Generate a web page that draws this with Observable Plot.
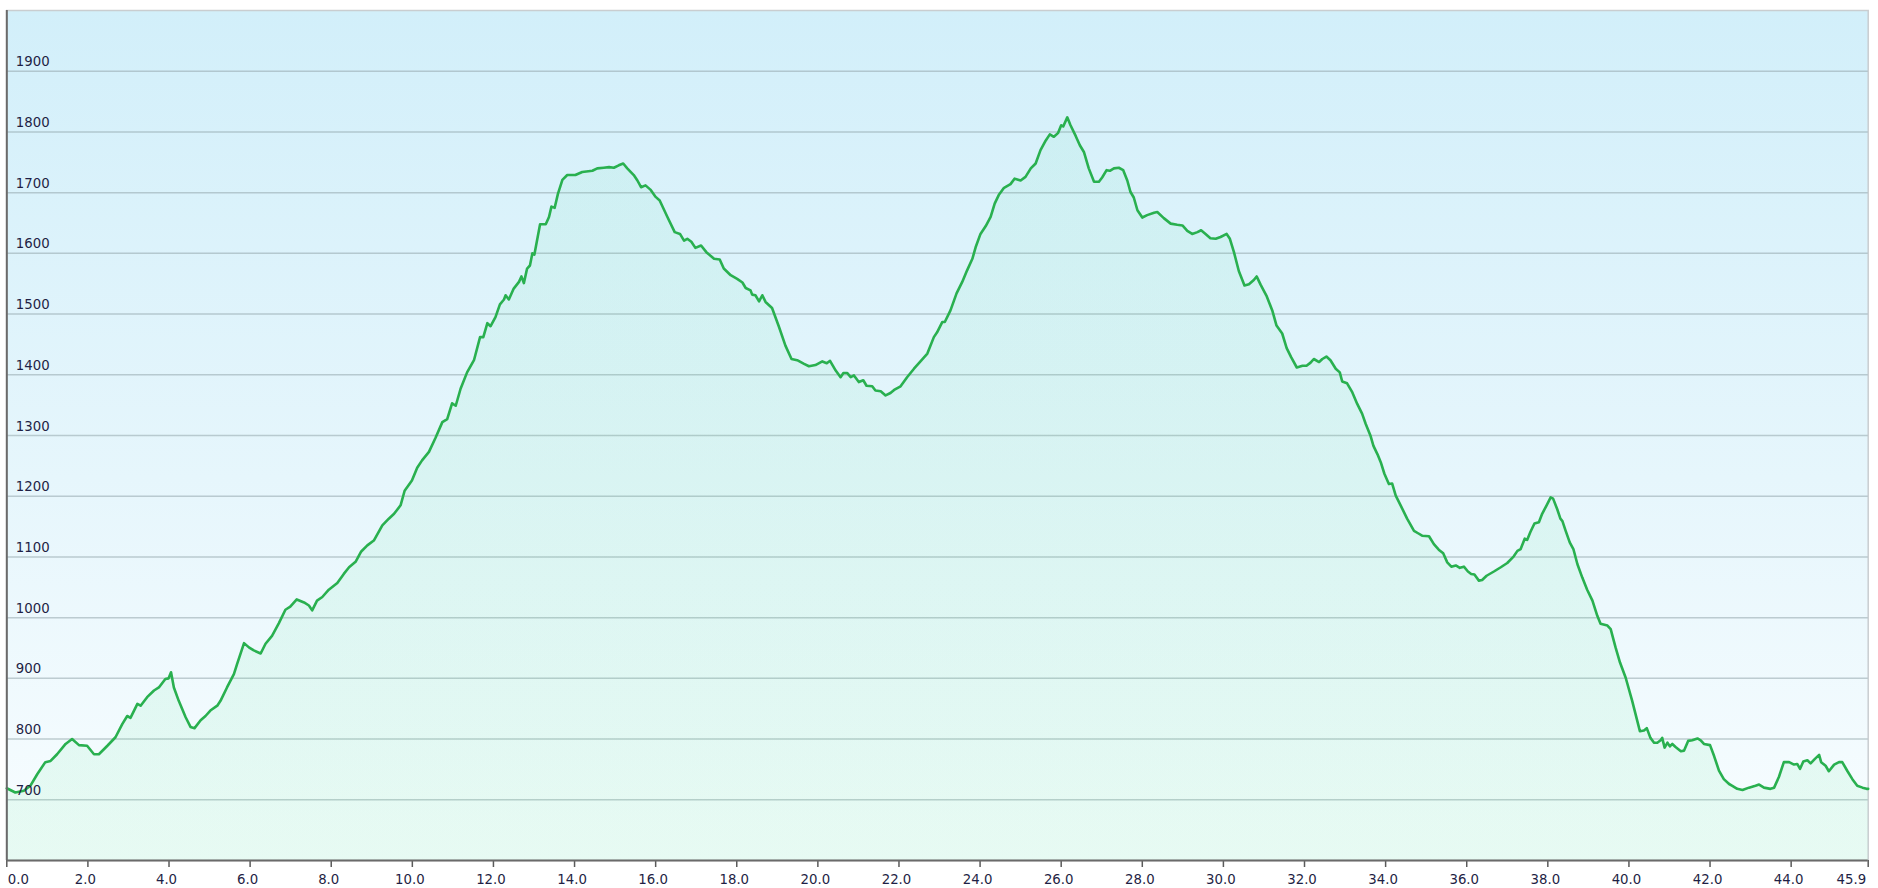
<!DOCTYPE html>
<html>
<head>
<meta charset="utf-8">
<script src="https://cdn.jsdelivr.net/npm/d3@7"></script>
<script src="https://cdn.jsdelivr.net/npm/@observablehq/plot@0.6"></script>
<style>
  html, body { margin: 0; padding: 0; background: #ffffff; }
  #chart svg { display: block; background: linear-gradient(to bottom, #f4f4f4 0px, #f4f4f4 9px, #ffffff 9px); }
</style>
</head>
<body>
<div id="chart"></div>
<script>
// Distance along the route (km)
const distanceKm = [
  0.00, 0.21, 0.42, 0.58, 0.75, 0.95, 1.08, 1.24, 1.45, 1.61, 1.78, 1.98, 2.15, 2.27, 2.48, 2.68, 2.85, 2.97, 3.05, 3.22,
  3.30, 3.46, 3.63, 3.75, 3.91, 3.99, 4.05, 4.12, 4.24, 4.41, 4.53, 4.63, 4.78, 4.90, 5.02, 5.19, 5.27, 5.43, 5.60, 5.68,
  5.85, 5.97, 6.09, 6.26, 6.38, 6.54, 6.71, 6.87, 6.99, 7.15, 7.33, 7.45, 7.53, 7.65, 7.78, 7.94, 8.15, 8.31, 8.44, 8.60,
  8.74, 8.89, 9.05, 9.26, 9.42, 9.55, 9.71, 9.81, 9.99, 10.12, 10.24, 10.41, 10.57, 10.74, 10.86, 10.98, 11.07, 11.19, 11.35, 11.52,
  11.67, 11.75, 11.85, 11.93, 12.05, 12.16, 12.26, 12.30, 12.38, 12.50, 12.63, 12.69, 12.75, 12.83, 12.90, 12.96, 13.01, 13.15, 13.29, 13.37,
  13.43, 13.51, 13.59, 13.70, 13.82, 14.02, 14.19, 14.44, 14.56, 14.72, 14.85, 14.97, 15.09, 15.20, 15.30, 15.46, 15.55, 15.64, 15.75, 15.87,
  16.00, 16.10, 16.29, 16.47, 16.60, 16.70, 16.78, 16.88, 16.98, 17.12, 17.25, 17.44, 17.58, 17.68, 17.85, 18.01, 18.14, 18.22, 18.34, 18.38,
  18.46, 18.55, 18.63, 18.71, 18.87, 19.04, 19.20, 19.35, 19.49, 19.66, 19.78, 19.94, 20.11, 20.22, 20.30, 20.44, 20.56, 20.63, 20.72, 20.81,
  20.89, 21.01, 21.12, 21.20, 21.34, 21.42, 21.55, 21.67, 21.79, 21.88, 22.04, 22.20, 22.37, 22.53, 22.70, 22.86, 22.94, 23.07, 23.13, 23.27,
  23.42, 23.56, 23.68, 23.81, 23.89, 24.01, 24.14, 24.26, 24.36, 24.46, 24.59, 24.75, 24.85, 25.00, 25.12, 25.25, 25.37, 25.49, 25.62, 25.72,
  25.82, 25.92, 26.00, 26.05, 26.15, 26.23, 26.36, 26.46, 26.56, 26.68, 26.81, 26.93, 27.01, 27.12, 27.20, 27.30, 27.42, 27.53, 27.63, 27.71,
  27.79, 27.88, 28.00, 28.12, 28.29, 28.37, 28.53, 28.70, 28.86, 28.99, 29.11, 29.23, 29.36, 29.45, 29.56, 29.68, 29.81, 29.93, 30.08, 30.16,
  30.26, 30.38, 30.52, 30.63, 30.75, 30.82, 30.92, 31.07, 31.21, 31.31, 31.45, 31.56, 31.67, 31.81, 31.95, 32.05, 32.15, 32.23, 32.36, 32.44,
  32.54, 32.64, 32.77, 32.87, 32.93, 33.05, 33.18, 33.30, 33.42, 33.51, 33.63, 33.70, 33.80, 33.88, 33.97, 34.08, 34.16, 34.25, 34.37, 34.53,
  34.70, 34.80, 34.90, 35.07, 35.19, 35.31, 35.42, 35.52, 35.62, 35.73, 35.83, 35.93, 36.03, 36.11, 36.19, 36.30, 36.38, 36.49, 36.67, 36.84,
  37.00, 37.16, 37.25, 37.33, 37.43, 37.49, 37.57, 37.67, 37.78, 37.86, 37.97, 38.07, 38.13, 38.23, 38.31, 38.36, 38.44, 38.54, 38.63, 38.73,
  38.85, 38.97, 39.10, 39.22, 39.30, 39.47, 39.55, 39.67, 39.78, 39.92, 40.08, 40.27, 40.37, 40.44, 40.53, 40.62, 40.70, 40.78, 40.82, 40.88,
  40.95, 41.01, 41.07, 41.15, 41.28, 41.36, 41.46, 41.56, 41.69, 41.77, 41.85, 42.00, 42.10, 42.22, 42.34, 42.47, 42.55, 42.67, 42.80, 42.96,
  43.12, 43.21, 43.33, 43.49, 43.58, 43.70, 43.82, 43.95, 44.07, 44.15, 44.22, 44.30, 44.40, 44.48, 44.58, 44.69, 44.74, 44.85, 44.93, 45.06,
  45.18, 45.26, 45.39, 45.51, 45.63, 45.76, 45.86, 45.90
];

// Elevation (m)
const elevationM = [
  719, 712, 715, 723, 742, 762, 764, 775, 792, 800, 790, 789, 775, 775, 789, 803, 825, 838, 835, 858,
  855, 869, 880, 885, 899, 900, 910, 885, 863, 836, 820, 818, 831, 838, 847, 855, 863, 885, 907, 924,
  958, 951, 946, 941, 957, 970, 991, 1013, 1018, 1030, 1025, 1020, 1012, 1028, 1034, 1046, 1057, 1072, 1083, 1092,
  1109, 1119, 1127, 1152, 1163, 1171, 1185, 1209, 1226, 1247, 1259, 1273, 1296, 1322, 1327, 1353, 1349, 1377, 1404, 1424,
  1462, 1462, 1485, 1480, 1495, 1516, 1524, 1531, 1524, 1542, 1553, 1562, 1551, 1575, 1580, 1600, 1598, 1648, 1648, 1660,
  1677, 1675, 1698, 1721, 1729, 1729, 1734, 1736, 1740, 1741, 1742, 1741, 1745, 1748, 1740, 1729, 1720, 1709, 1712, 1705,
  1693, 1687, 1660, 1635, 1632, 1621, 1624, 1619, 1609, 1613, 1602, 1591, 1590, 1575, 1564, 1558, 1552, 1543, 1539, 1532,
  1531, 1521, 1531, 1520, 1510, 1479, 1448, 1426, 1424, 1418, 1414, 1416, 1422, 1419, 1423, 1407, 1396, 1403, 1403, 1396,
  1399, 1388, 1391, 1382, 1381, 1374, 1373, 1366, 1370, 1375, 1381, 1396, 1410, 1422, 1435, 1462, 1470, 1487, 1487, 1506,
  1534, 1553, 1572, 1591, 1610, 1632, 1645, 1660, 1682, 1696, 1708, 1714, 1723, 1720, 1726, 1740, 1748, 1770, 1786, 1796,
  1792, 1798, 1811, 1809, 1824, 1811, 1793, 1778, 1767, 1740, 1718, 1718, 1725, 1737, 1736, 1740, 1741, 1737, 1720, 1701,
  1692, 1671, 1659, 1663, 1667, 1668, 1658, 1649, 1647, 1646, 1637, 1632, 1635, 1638, 1632, 1625, 1624, 1627, 1632, 1624,
  1602, 1571, 1547, 1549, 1556, 1562, 1548, 1529, 1505, 1481, 1468, 1444, 1429, 1412, 1415, 1415, 1420, 1426, 1421, 1426,
  1430, 1424, 1410, 1404, 1389, 1386, 1371, 1352, 1336, 1319, 1299, 1283, 1269, 1256, 1237, 1220, 1221, 1201, 1185, 1163,
  1143, 1139, 1135, 1134, 1121, 1112, 1106, 1091, 1084, 1086, 1082, 1084, 1076, 1072, 1071, 1061, 1062, 1069, 1076, 1083,
  1090, 1101, 1110, 1113, 1130, 1128, 1141, 1155, 1157, 1171, 1185, 1198, 1196, 1179, 1163, 1159, 1143, 1124, 1113, 1088,
  1066, 1046, 1028, 1003, 990, 987, 981, 951, 926, 901, 863, 813, 814, 818, 802, 794, 794, 798, 802, 786,
  794, 788, 792, 787, 780, 781, 797, 798, 801, 798, 792, 790, 772, 748, 734, 726, 723, 718, 716, 720,
  723, 725, 720, 718, 720, 738, 762, 762, 758, 759, 751, 763, 765, 760, 767, 774, 762, 756, 747, 758,
  762, 762, 747, 734, 723, 720, 718, 718
];

// Axis ticks
const xTicks = [0, 2, 4, 6, 8, 10, 12, 14, 16, 18, 20, 22, 24, 26, 28, 30, 32, 34, 36, 38, 40, 42, 44, 45.9];
const xTickLabels = ["0.0", "2.0", "4.0", "6.0", "8.0", "10.0", "12.0", "14.0", "16.0", "18.0", "20.0", "22.0",
  "24.0", "26.0", "28.0", "30.0", "32.0", "34.0", "36.0", "38.0", "40.0", "42.0", "44.0", "45.9"];
const yTicks = [700, 800, 900, 1000, 1100, 1200, 1300, 1400, 1500, 1600, 1700, 1800, 1900];

const profile = distanceKm.map((km, i) => ({km, elev: elevationM[i]}));
const xLab = xTicks.map((v, i) => ({v, label: xTickLabels[i], i}));
const lastI = xTicks.length - 1;

const font = "'DejaVu Sans', Verdana, sans-serif";
const textColor = "#1f1f45";

const chart = Plot.plot({
  width: 1878,
  height: 888,
  marginLeft: 6.3,
  marginRight: 10.3,
  marginTop: 10,
  marginBottom: 28,
  style: {fontFamily: font, fontSize: "13.3px", background: "transparent", overflow: "visible"},
  x: {domain: [0, 45.9], axis: null},
  y: {domain: [600, 2000], axis: null},
  marks: [
    Plot.frame({fill: "url(#bgGrad)", stroke: "#c9cdd0", strokeWidth: 1.5}),
    Plot.ruleY(yTicks, {y: d => d, stroke: "#93a5ab", strokeOpacity: 0.55, strokeWidth: 1.5}),
    Plot.areaY(profile, {x: "km", y1: 600, y2: "elev", fill: "url(#areaGrad)", curve: "linear"}),
    Plot.lineY(profile, {x: "km", y: "elev", stroke: "#29b04f", strokeWidth: 2.6, strokeLinejoin: "round", curve: "linear"}),
    Plot.axisX({ticks: xTicks, tickSize: 7, tickFormat: () => "", stroke: "#5a5a5a", strokeWidth: 1.5, label: null}),
    Plot.ruleY([600], {stroke: "#6a6a6a", strokeWidth: 2}),
    Plot.ruleX([0], {stroke: "#6a6a6a", strokeWidth: 2}),
    Plot.text(yTicks, {x: 0, y: d => d, text: d => String(d), textAnchor: "start", lineAnchor: "bottom", dx: 9, dy: -5, fill: textColor}),
    Plot.text(xLab.filter(d => d.i === 0), {x: "v", frameAnchor: "bottom", text: "label", textAnchor: "start", lineAnchor: "bottom", dx: 1, dy: 23, fill: textColor}),
    Plot.text(xLab.filter(d => d.i > 0 && d.i < lastI), {x: "v", frameAnchor: "bottom", text: "label", textAnchor: "middle", lineAnchor: "bottom", dx: -2.5, dy: 23, fill: textColor}),
    Plot.text(xLab.filter(d => d.i === lastI), {x: "v", frameAnchor: "bottom", text: "label", textAnchor: "end", lineAnchor: "bottom", dx: -2, dy: 23, fill: textColor})
  ]
});

// gradient definitions
const svg = d3.select(chart);
const defs = svg.insert("defs", ":first-child");
const bg = defs.append("linearGradient").attr("id", "bgGrad").attr("x1", 0).attr("y1", 0).attr("x2", 0).attr("y2", 1);
bg.append("stop").attr("offset", "0%").attr("stop-color", "#d2effa");
bg.append("stop").attr("offset", "55%").attr("stop-color", "#e6f6fc");
bg.append("stop").attr("offset", "100%").attr("stop-color", "#f8fdff");
const ar = defs.append("linearGradient").attr("id", "areaGrad").attr("gradientUnits", "userSpaceOnUse")
  .attr("x1", 0).attr("y1", 10).attr("x2", 0).attr("y2", 860);
ar.append("stop").attr("offset", "0%").attr("stop-color", "rgb(60,215,140)").attr("stop-opacity", 0.06);
ar.append("stop").attr("offset", "100%").attr("stop-color", "rgb(60,225,120)").attr("stop-opacity", 0.09);

document.getElementById("chart").appendChild(chart);
</script>
</body>
</html>
